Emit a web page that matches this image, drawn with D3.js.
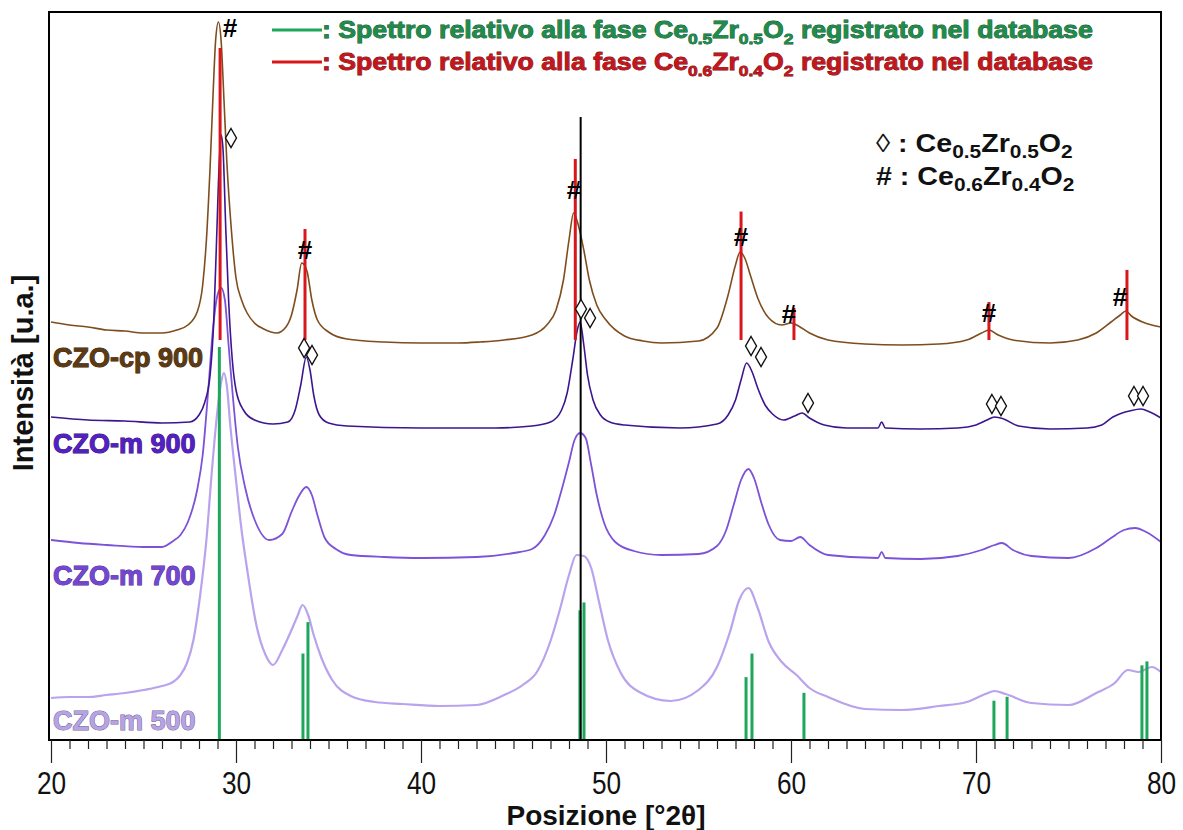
<!DOCTYPE html>
<html>
<head>
<meta charset="utf-8">
<script src="https://cdn.jsdelivr.net/npm/d3@7"></script>
<style>
  body { margin: 0; background: #fff; }
  svg { display: block; }
</style>
</head>
<body>
<div id="chart"></div>
<script>
////////////////////////////////////////////////////////////////////////
// Data: [2theta, intensity (a.u., stacked)]

let cp900 = [[20,418],[21,415],[22,413],[23,410],[24,409],[25,407],[26,407],[26.8,410],[27.4,415],[27.9,428],
  [28.2,455],[28.4,500],[28.6,573],[28.77,650],[28.9,700],[29.05,718],[29.2,698],[29.35,640],[29.5,580],[29.75,510],
  [30,462],[30.3,440],[30.6,427],[31,417],[31.5,411],[32.2,407],[32.7,413],[33,425],[33.3,450],[33.55,477],
  [33.7,475],[33.85,468],[34.1,440],[34.4,420],[35,408],[36,401],[38,398],[40,397],[42,397],[43.2,398],
  [44.5,400],[46,405],[46.8,415],[47.3,430],[47.7,460],[48,500],[48.25,527],[48.5,515],[48.8,490],[49.1,460],
  [49.5,435],[50,420],[51,404],[52,399],[53,397],[55,399],[56,412],[56.6,445],[57,475],[57.25,488],
  [57.5,482],[57.8,465],[58.2,442],[58.8,422],[59.5,415],[60,417],[60.4,414],[61,407],[62,400],[64,396],
  [66,395],[68,396],[69.5,400],[70.3,407],[70.7,410],[71.2,405],[72,400],[74,397],[75.5,400],[76.5,407],
  [77.3,418],[77.8,425],[78.1,429],[78.4,424],[79,418],[79.5,415],[80,413]];

let m900 = [[20,323],[22,320],[24,319],[26,317],[27.5,318],[28,325],[28.3,337],[28.6,365],[28.8,420],[28.95,500],
  [29.1,580],[29.2,605],[29.3,590],[29.45,510],[29.6,440],[29.8,380],[30,350],[30.4,330],[31,320],[32,316],
  [32.8,318],[33.2,330],[33.5,355],[33.8,383],[34,370],[34.2,345],[34.5,325],[35,317],[36,314],[40,312],
  [44,312],[46,314],[47,318],[47.6,330],[47.9,347],[48.2,380],[48.45,410],[48.6,418],[48.8,395],[49,365],
  [49.3,340],[49.7,325],[50.2,318],[51,315],[54,312],[56,316],[56.6,325],[57,340],[57.3,360],[57.6,377],
  [57.9,368],[58.2,352],[58.6,335],[59,326],[59.6,320],[60.2,324],[60.6,327],[61,322],[61.8,315],[63,312],
  [64.7,312],[64.9,318],[65.1,312],[67,311],[69,312],[70,315],[70.6,320],[71,323],[71.5,321],[72.3,314],
  [74,311],[76,312],[76.8,315],[77.4,323],[77.9,327],[78.3,329],[78.9,331],[79.4,328],[80,322]];

let m700 = [[20,200],[21.5,197],[23,195],[25,193],[26,193],[26.6,199],[27,205],[27.4,218],[27.9,250],[28.2,285],
  [28.5,350],[28.75,410],[29,445],[29.2,452],[29.4,440],[29.6,395],[29.8,350],[30.1,293],[30.5,252],[31.1,216],
  [31.8,200],[32.5,206],[33,228],[33.4,244],[33.8,253],[34.1,245],[34.4,225],[34.8,202],[35.4,191],[36.2,185],
  [38,183],[40,182],[43,183],[45,187],[46,191],[46.7,205],[47.2,225],[47.6,250],[48,278],[48.3,300],
  [48.6,307],[48.9,302],[49.2,275],[49.5,245],[49.9,217],[50.5,198],[51.5,189],[53,185],[55,186],[56,194],
  [56.5,210],[56.9,235],[57.3,260],[57.7,271],[58,262],[58.4,237],[58.8,215],[59.4,200],[60,199],[60.5,203],
  [61,195],[62,185],[64.7,182],[64.9,188],[65.1,182],[67,181],[69,184],[70.3,190],[71,195],[71.4,197],
  [72,190],[73,184],[75,182],[76.5,192],[77.3,202],[78,210],[78.6,212],[79.2,208],[80,198]];

let m500 = [[20,42],[21,43],[22,43],[23,45],[24,47],[25,50],[26,54],[26.6,58],[27,65],[27.35,77],
  [27.7,100],[28.05,143],[28.4,200],[28.7,270],[29,330],[29.2,358],[29.35,367],[29.5,355],[29.7,313],[30,260],
  [30.3,210],[30.6,171],[31.1,115],[31.6,85],[32,75],[32.5,90],[33,110],[33.3,123],[33.6,135],[33.9,125],
  [34.2,105],[34.6,83],[35.2,60],[36.2,44],[37.5,38],[39,36],[41,34],[43,35],[44.5,45],[45.5,55],
  [46.3,69],[47,99],[47.5,130],[48,165],[48.4,185],[48.8,184],[49.2,172],[49.6,140],[50.1,100],[50.8,67],
  [51.8,48],[53.5,39],[55,50],[56,73],[56.7,108],[57.2,140],[57.7,152],[58.2,132],[58.8,98],[59.5,78],
  [60.3,65],[61,52],[62,43],[64,31],[66,30],[68,34],[69.5,38],[70.5,46],[71,49],[71.6,46],
  [73,37],[75,35],[76.5,47],[77.5,57],[78.2,70],[78.8,68],[79.5,73],[80,68]];

// reference patterns from the database: [2theta, relative intensity %]
let refCe05 = [[29.10,100],[33.62,22],[33.89,30],[48.59,33],[48.81,35],[57.57,16],[57.89,22],
  [60.70,12],[70.97,10],[71.68,11],[78.97,19],[79.24,20]];
let refCe06 = [[29.14,100],[33.73,38],[48.34,62],[57.30,44],[60.16,11],[70.70,13],[78.16,24]];

// phase markers: [2theta, intensity a.u.]
let hashMarks = [[29.68,712],[33.73,490],[48.27,550],[57.30,503],[59.89,426],[70.70,427],[77.78,443]];
let diamondMarks = [[29.73,602],[33.68,392],[34.11,385],[48.65,431],[49.14,422],[57.84,394],[58.38,383],
  [60.92,337],[70.86,336],[71.35,334],[78.54,344],[79.03,344]];

let guideTheta = 48.63;

let series = [
  {name: "CZO-m 500", data: m500, color: "#b9a3ee", width: 2.2, label: "#b6a3e4", outline: "#6f6590", ly: 10},
  {name: "CZO-m 700", data: m700, color: "#7b52d8", width: 1.8, label: "#7447d2", outline: "#4a2a8c", ly: 155},
  {name: "CZO-m 900", data: m900, color: "#3d168f", width: 1.6, label: "#5420c4", outline: "#2a0c6a", ly: 287},
  {name: "CZO-cp 900", data: cp900, color: "#7e4d1e", width: 1.6, label: "#5c3a12", outline: "#3a2208", ly: 373}
];

let majorTicks = [20, 30, 40, 50, 60, 70, 80];
let minorTicks = d3.range(21, 80).filter(function(d) { return d % 10 !== 0; });

////////////////////////////////////////////////////////////////////////
// svg + scales

let width = 1183;
let height = 830;

let svg = d3.select("#chart").append("svg")
  .attr("width", width).attr("height", height);

let xScale = d3.scaleLinear().domain([20, 80]).range([51, 1161]);
let yScale = d3.scaleLinear().domain([0, 728]).range([740, 12]);
let yRefGreen = d3.scaleLinear().domain([0, 100]).range([740, 347]);
let yRefRed = d3.scaleLinear().domain([0, 100]).range([340, 48]);

let line = d3.line()
  .x(function(d) { return xScale(d[0]); })
  .y(function(d) { return yScale(d[1]); })
  .curve(d3.curveMonotoneX);

////////////////////////////////////////////////////////////////////////
// curves

svg.append("g")
  .selectAll(".datapath")
  .data(series).enter()
  .append("path")
  .attr("class", "datapath")
  .attr("d", function(d) { return line(d.data); })
  .attr("fill", "none")
  .attr("stroke", function(d) { return d.color; })
  .attr("stroke-width", function(d) { return d.width; })
  .attr("stroke-linejoin", "round");

// curve labels
svg.append("g")
  .selectAll(".label")
  .data(series).enter()
  .append("text")
  .attr("class", "label")
  .attr("x", 53)
  .attr("y", function(d) { return yScale(d.ly); })
  .attr("font-family", "'Liberation Sans', Arial, sans-serif")
  .attr("font-weight", "bold")
  .attr("font-size", 27)
  .attr("fill", function(d) { return d.label; })
  .attr("stroke", function(d) { return d.outline; })
  .attr("stroke-width", 1)
  .attr("paint-order", "stroke")
  .text(function(d) { return d.name; });

// reference lines
svg.append("g")
  .selectAll("line")
  .data(refCe06).enter()
  .append("line")
  .attr("x1", function(d) { return xScale(d[0]); })
  .attr("x2", function(d) { return xScale(d[0]); })
  .attr("y1", yRefRed(0))
  .attr("y2", function(d) { return yRefRed(d[1]); })
  .attr("stroke", "#d8161b")
  .attr("stroke-width", 3);

svg.append("g")
  .selectAll("line")
  .data(refCe05).enter()
  .append("line")
  .attr("x1", function(d) { return xScale(d[0]); })
  .attr("x2", function(d) { return xScale(d[0]); })
  .attr("y1", yRefGreen(0))
  .attr("y2", function(d) { return yRefGreen(d[1]); })
  .attr("stroke", "#1ea75a")
  .attr("stroke-width", 3);

// black guide line
svg.append("line")
  .attr("x1", xScale(guideTheta)).attr("x2", xScale(guideTheta))
  .attr("y1", 740).attr("y2", 117)
  .attr("stroke", "#000").attr("stroke-width", 2);

// markers
svg.append("g")
  .selectAll(".hash")
  .data(hashMarks).enter()
  .append("text")
  .attr("class", "hash")
  .attr("x", function(d) { return xScale(d[0]); })
  .attr("y", function(d) { return yScale(d[1]) + 9; })
  .attr("text-anchor", "middle")
  .attr("font-family", "'Liberation Sans', Arial, sans-serif")
  .attr("font-weight", "bold")
  .attr("font-size", 26)
  .attr("fill", "#000")
  .text("#");

svg.append("g")
  .selectAll(".diamond")
  .data(diamondMarks).enter()
  .append("path")
  .attr("class", "diamond")
  .attr("transform", function(d) { return "translate(" + xScale(d[0]) + "," + yScale(d[1]) + ")"; })
  .attr("d", d3.symbol().type(d3.symbolDiamond).size(104))
  .attr("fill", "#fff")
  .attr("stroke", "#111")
  .attr("stroke-width", 1.4);

////////////////////////////////////////////////////////////////////////
// frame and axes

svg.append("rect")
  .attr("x", 49).attr("y", 12)
  .attr("width", 1112).attr("height", 728)
  .attr("fill", "none")
  .attr("stroke", "#000")
  .attr("stroke-width", 2);

let xAxis = d3.axisBottom(xScale)
  .tickValues(majorTicks)
  .tickSize(23)
  .tickPadding(8)
  .tickFormat(d3.format("d"));

let xMinor = d3.axisBottom(xScale)
  .tickValues(minorTicks)
  .tickSize(9)
  .tickFormat("");

svg.append("g")
  .attr("transform", "translate(0,740)")
  .call(xMinor)
  .call(function(g) { g.select(".domain").remove(); })
  .selectAll("line").attr("stroke", "#222").attr("stroke-width", 1.2);

let gx = svg.append("g")
  .attr("transform", "translate(0,740)")
  .call(xAxis)
  .call(function(g) { g.select(".domain").remove(); });
gx.selectAll("line").attr("stroke", "#222").attr("stroke-width", 1.2);
// narrow look of the tick numbers
gx.selectAll("text")
  .attr("font-family", "'Liberation Sans', Arial, sans-serif")
  .attr("font-size", 32)
  .attr("transform", "scale(0.82,1)")
  .attr("fill", "#111");

// axis titles
svg.append("text")
  .attr("x", 606).attr("y", 825)
  .attr("text-anchor", "middle")
  .attr("font-family", "'Liberation Sans', Arial, sans-serif")
  .attr("font-weight", "bold")
  .attr("font-size", 28)
  .attr("fill", "#111")
  .text("Posizione [°2θ]");

svg.append("text")
  .attr("transform", "translate(33,373) rotate(-90)")
  .attr("text-anchor", "middle")
  .attr("font-family", "'Liberation Sans', Arial, sans-serif")
  .attr("font-weight", "bold")
  .attr("font-size", 29)
  .attr("fill", "#111")
  .text("Intensità [u.a.]");

////////////////////////////////////////////////////////////////////////
// legends

function formula(sel, parts, subSize) {
  parts.forEach(function(p) {
    sel.append("tspan")
      .attr("font-size", p[1] ? subSize : null)
      .attr("dy", p[1] ? 6 : (p[2] ? -6 : null))
      .text(p[0]);
  });
}

let legendRows = [
  {y: 30, color: "#1ea75a", fill: "#1f8c4c", outline: "#0d4f28",
   parts: [[": Spettro relativo alla fase Ce"], ["0.5", true], ["Zr", false, true], ["0.5", true], ["O", false, true], ["2", true], [" registrato nel database", false, true]]},
  {y: 62, color: "#d8161b", fill: "#c4161d", outline: "#6a0a0e",
   parts: [[": Spettro relativo alla fase Ce"], ["0.6", true], ["Zr", false, true], ["0.4", true], ["O", false, true], ["2", true], [" registrato nel database", false, true]]}
];

legendRows.forEach(function(r) {
  svg.append("line")
    .attr("x1", 272).attr("x2", 322)
    .attr("y1", r.y).attr("y2", r.y)
    .attr("stroke", r.color).attr("stroke-width", 3);
  let t = svg.append("text")
    .attr("transform", "translate(322," + (r.y + 8) + ") scale(1.16,1)")
    .attr("font-family", "'Liberation Sans', Arial, sans-serif")
    .attr("font-weight", "bold")
    .attr("font-size", 23)
    .attr("fill", r.fill)
    .attr("stroke", r.outline)
    .attr("stroke-width", 0.8)
    .attr("paint-order", "stroke");
  formula(t, r.parts, 15);
});

let phaseRows = [
  {y: 152, sym: "◊", parts: [[" : Ce"], ["0.5", true], ["Zr", false, true], ["0.5", true], ["O", false, true], ["2", true]]},
  {y: 185, sym: "#", parts: [[" : Ce"], ["0.6", true], ["Zr", false, true], ["0.4", true], ["O", false, true], ["2", true]]}
];

phaseRows.forEach(function(r) {
  let t = svg.append("text")
    .attr("transform", "translate(876," + r.y + ") scale(1.1,1)")
    .attr("font-family", "'Liberation Sans', Arial, sans-serif")
    .attr("font-weight", "bold")
    .attr("font-size", 26)
    .attr("fill", "#111");
  t.append("tspan").attr("font-weight", r.sym === "◊" ? "normal" : "bold").text(r.sym);
  formula(t, r.parts, 19);
});
</script>
</body>
</html>
